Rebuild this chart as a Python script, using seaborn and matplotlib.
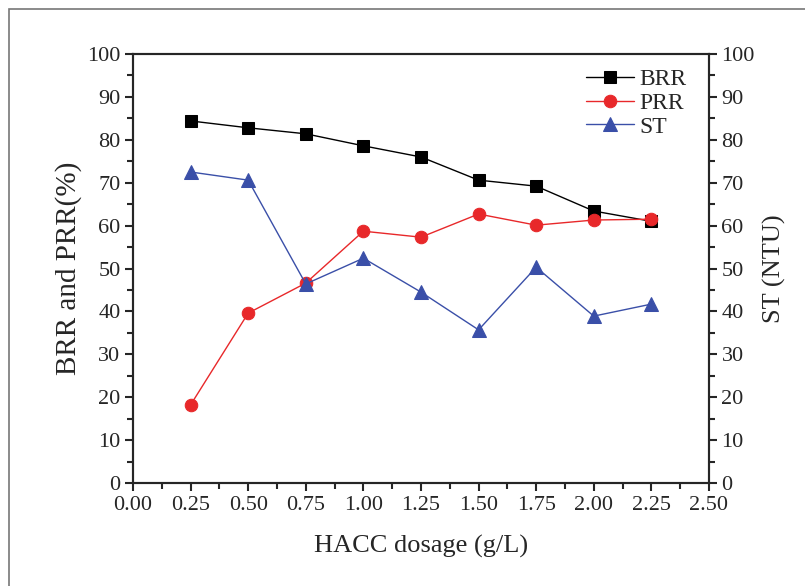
import numpy as np
import pandas as pd
import matplotlib
matplotlib.use('Agg')
import matplotlib.pyplot as plt
import seaborn as sns
from matplotlib.ticker import MultipleLocator, AutoMinorLocator
from matplotlib.patches import Rectangle

# data
dosage = [0.25, 0.50, 0.75, 1.00, 1.25, 1.50, 1.75, 2.00, 2.25]
brr = [84.4, 82.8, 81.4, 78.6, 76.0, 70.6, 69.2, 63.4, 61.0]
prr = [18.2, 39.6, 46.6, 58.7, 57.3, 62.7, 60.1, 61.3, 61.5]
st = [72.5, 70.6, 46.4, 52.4, 44.5, 35.7, 50.3, 38.9, 41.7]

df = pd.DataFrame({'dosage': dosage, 'BRR': brr, 'PRR': prr, 'ST': st})

sns.set_style('ticks')
plt.rcParams['font.family'] = ['Liberation Serif', 'DejaVu Serif']

fig = plt.figure(figsize=(8.05, 5.86), dpi=100)
fig.patches.append(Rectangle((9 / 805, -0.1), 1.2, 1 - 9 / 586 + 0.1, transform=fig.transFigure,
                             fill=False, edgecolor='#777777', linewidth=1.2))
ax = fig.add_axes([0.1652, 0.1758, 0.7155, 0.732])
ax2 = ax.twinx()

sns.lineplot(data=df, x='dosage', y='BRR', ax=ax, color='black', marker='s', markersize=8,
             markeredgecolor='black', linewidth=1, label='BRR', legend=False)
sns.lineplot(data=df, x='dosage', y='PRR', ax=ax, color='#e8282a', marker='o', markersize=9,
             markeredgecolor='#e8282a', linewidth=1, label='PRR', legend=False)
sns.lineplot(data=df, x='dosage', y='ST', ax=ax2, color='#3a4fa8', marker='^', markersize=10,
             markeredgecolor='#3a4fa8', linewidth=1, label='ST', legend=False)

for a in (ax, ax2):
    a.set_ylim(0, 100)
    a.yaxis.set_major_locator(MultipleLocator(10))
    a.yaxis.set_minor_locator(AutoMinorLocator(2))
    a.tick_params(axis='y', which='major', length=6, width=1.5, labelsize=16, pad=3)
    a.tick_params(axis='y', which='minor', length=4, width=1.5)
    for s in a.spines.values():
        s.set_linewidth(1.5)

ax.set_xlim(0, 2.5)
ax.xaxis.set_major_locator(MultipleLocator(0.25))
ax.xaxis.set_minor_locator(AutoMinorLocator(2))
ax.xaxis.set_major_formatter(matplotlib.ticker.FormatStrFormatter('%.2f'))
ax.tick_params(axis='x', which='major', length=6, width=1.5, labelsize=16)
ax.tick_params(axis='x', which='minor', length=4, width=1.5)

ax.set_xlabel('HACC dosage (g/L)', fontsize=19, labelpad=14)
ax.set_ylabel('BRR and PRR(%)', fontsize=21, labelpad=4)
ax2.set_ylabel('ST (NTU)', fontsize=19, labelpad=6)

h1, l1 = ax.get_legend_handles_labels()
h2, l2 = ax2.get_legend_handles_labels()
ax2.legend(h1 + h2, l1 + l2, loc='upper right', frameon=False, fontsize=17,
           handlelength=2.0, handletextpad=0.25, labelspacing=0.1,
           bbox_to_anchor=(0.998, 1.016))

fig.savefig('out.png', dpi=100)
